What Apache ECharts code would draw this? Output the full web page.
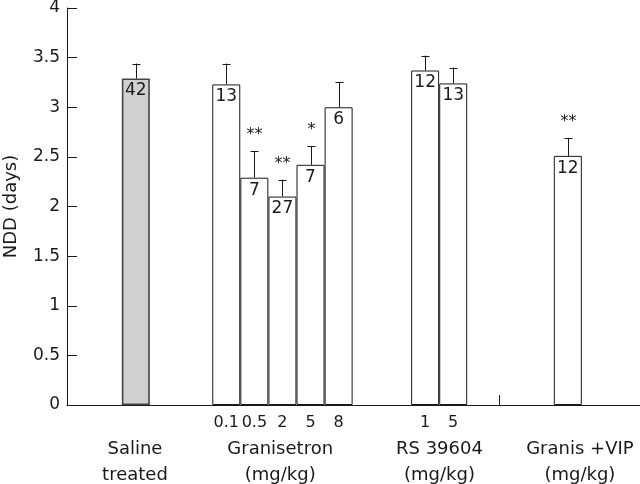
<!DOCTYPE html>
<html>
<head>
<meta charset="utf-8">
<script src="https://cdn.jsdelivr.net/npm/echarts@6/dist/echarts.min.js"></script>
<style>
  html, body { margin: 0; padding: 0; background: #fff; }
  #chart { width: 640px; height: 484px; }
</style>
</head>
<body>
<div id="chart"></div>
<script>
// x positions in bar-width units
const barPos = [2.45, 5.67, 6.67, 7.67, 8.67, 9.67, 12.75, 13.75, 17.83];
const means = [3.29, 3.23, 2.29, 2.10, 2.42, 3.00, 3.37, 3.24, 2.51];
const errTops = [3.44, 3.44, 2.56, 2.27, 2.61, 3.25, 3.52, 3.40, 2.69];
const counts = ['42', '13', '7', '27', '7', '6', '12', '13', '12'];
const stars = ['', '', '**', '**', '*', '', '', '', '**'];
const doseLabels = ['', '0.1', '0.5', '2', '5', '8', '1', '5', ''];
const groupNames = ['Saline\ntreated', 'Granisetron\n(mg/kg)', 'RS 39604\n(mg/kg)', 'Granis +VIP\n(mg/kg)'];
const groupPos = [2.42, 7.59, 13.26, 18.26];
const strayTick = [15.38];
const xMax = 20.4;

const FONT = 'DejaVu Sans';
const INK = '#1a1a1a';

const dosePos = barPos.filter((p, i) => doseLabels[i]);
const doseText = {};
barPos.forEach((p, i) => { if (doseLabels[i]) doseText[p] = doseLabels[i]; });
const groupText = {};
groupPos.forEach((p, i) => { groupText[p] = groupNames[i]; });

const chart = echarts.init(document.getElementById('chart'));

chart.setOption({
  animation: false,
  backgroundColor: '#fff',
  grid: { left: 67, right: 0, top: 8, bottom: 79, containLabel: false, outerBoundsMode: 'none' },
  xAxis: [{
    type: 'value',
    min: 0,
    max: xMax,
    splitLine: { show: false },
    axisLine: { show: true, onZero: false, lineStyle: { color: INK, width: 1 } },
    axisTick: { show: true, inside: true, length: 10, customValues: strayTick, lineStyle: { color: INK } },
    axisLabel: {
      customValues: dosePos,
      formatter: v => doseText[v] || '',
      margin: 10,
      color: INK,
      fontFamily: FONT,
      fontSize: 16
    }
  }, {
    type: 'value',
    min: 0,
    max: xMax,
    position: 'bottom',
    splitLine: { show: false },
    axisLine: { show: false },
    axisTick: { show: false },
    axisLabel: {
      customValues: groupPos,
      formatter: v => groupText[v] || '',
      margin: 31,
      lineHeight: 26,
      align: 'center',
      color: INK,
      fontFamily: FONT,
      fontSize: 18
    }
  }],
  yAxis: {
    type: 'value',
    min: 0,
    max: 4,
    interval: 0.5,
    name: 'NDD (days)',
    nameLocation: 'middle',
    nameGap: 47,
    nameTextStyle: { color: INK, fontFamily: FONT, fontSize: 18 },
    splitLine: { show: false },
    axisLine: { show: true, lineStyle: { color: INK, width: 1 } },
    axisTick: { show: true, inside: true, length: 10, lineStyle: { color: INK } },
    axisLabel: { color: INK, fontFamily: FONT, fontSize: 17, margin: 7 }
  },
  series: [{
    type: 'bar',
    xAxisIndex: 0,
    barWidth: 28,
    data: barPos.map((p, i) => ({
      value: [p, means[i]],
      itemStyle: i === 0
        ? { color: '#d0d0d0', borderColor: '#444', borderWidth: 1.6 }
        : { color: '#fff', borderColor: INK, borderWidth: 1 }
    })),
    label: {
      show: true,
      position: 'insideTop',
      distance: 4,
      formatter: p => counts[p.dataIndex],
      color: INK,
      fontFamily: FONT,
      fontSize: 17
    }
  }, {
    type: 'custom',
    xAxisIndex: 0,
    data: barPos.map((p, i) => [p, means[i], errTops[i]]),
    renderItem: (params, api) => {
      const base = api.coord([api.value(0), api.value(1)]);
      const top = api.coord([api.value(0), api.value(2)]);
      const x = Math.round(base[0]) + 0.5;
      const children = [{
        type: 'line',
        shape: { x1: x, y1: base[1], x2: x, y2: top[1] },
        style: { stroke: INK, lineWidth: 1 }
      }, {
        type: 'line',
        shape: { x1: x - 4, y1: Math.round(top[1]) + 0.5, x2: x + 4, y2: Math.round(top[1]) + 0.5 },
        style: { stroke: INK, lineWidth: 1 }
      }];
      const s = stars[params.dataIndex];
      if (s) {
        children.push({
          type: 'text',
          style: {
            text: s, x: x, y: top[1] - 8,
            align: 'center', verticalAlign: 'bottom',
            fill: INK, font: '16px "' + FONT + '"'
          }
        });
      }
      return { type: 'group', children };
    }
  }]
});
</script>
</body>
</html>
